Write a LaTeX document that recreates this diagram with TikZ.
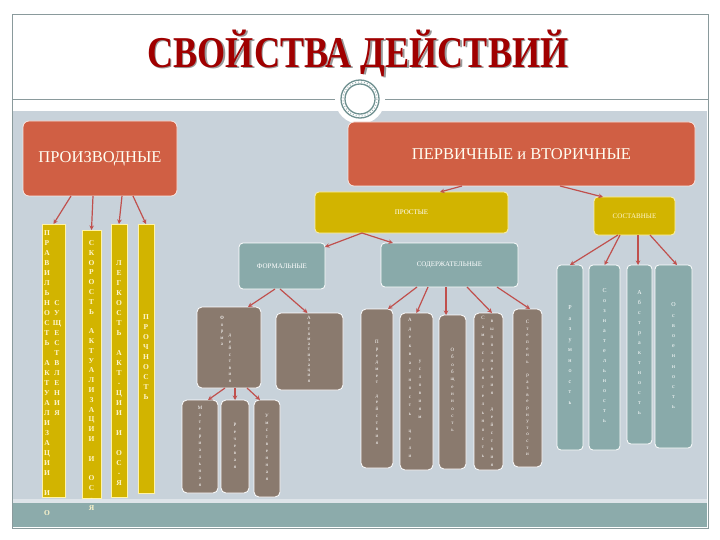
\documentclass[tikz,border=0pt]{standalone}
\usepackage{fontspec}
\setmainfont{Liberation Serif}
\usetikzlibrary{arrows.meta,calc}

\definecolor{panel}{HTML}{C8D2DA}
\definecolor{strip}{HTML}{8CABAB}
\definecolor{redbox}{HTML}{D05F44}
\definecolor{yel}{HTML}{D2B400}
\definecolor{tealb}{HTML}{89AAAA}
\definecolor{brownb}{HTML}{8A7A6E}
\definecolor{arrc}{HTML}{C0504D}
\definecolor{titlec}{HTML}{A00000}
\definecolor{framec}{HTML}{8A9A9C}
\definecolor{ringc}{HTML}{6F9090}
\definecolor{ltxt}{HTML}{FFF6CC}
\definecolor{ytrim}{HTML}{FFF3A8}

\makeatletter
\def\vstkEnd{\vstkEnd@}
\newcommand\vstk[1]{\vstk@a#1\vstkEnd}
\def\vstk@a#1{\ifx#1\vstkEnd\else\vstk@put#1\expandafter\vstk@b\fi}
\def\vstk@b#1{\ifx#1\vstkEnd\else\\\vstk@put#1\expandafter\vstk@b\fi}
\def\vstk@put#1{\ifx#1_\strut\else#1\fi}
\makeatother

% box: name, x1, y1, x2, y2, style, text
\newcommand\bx[7]{\node[#6, minimum width={(#4-#2)*1pt}, minimum height={(#5-#3)*1pt}] (#1) at ({(#2+#4)/2},{(#3+#5)/2}) {#7};}
% vertical column: name, x, y of first letter centre, font size, pitch, text, colour
\newcommand\vcol[7]{\node[vc, text=#7, font={\fontsize{#4}{#5}\selectfont}] (#1) at (#2,{#3-0.33*#4}) {\vstk{#6}};}
\newcommand\vcolb[7]{\node[vc, text=#7, font={\fontsize{#4}{#5}\selectfont\bfseries}] (#1) at (#2,{#3-0.33*#4}) {\vstk{#6}};}

\begin{document}
\begin{tikzpicture}[x=1pt,y=-1pt,
  vc/.style={inner sep=0pt, outer sep=0pt, align=center, anchor=north},
  redb/.style={fill=redbox, draw=white!85!redbox, line width=0.8pt, rounded corners=6pt, inner sep=0pt, outer sep=0pt, text=white!95!yellow, font={\fontsize{16.5}{18}\selectfont}},
  yelb/.style={fill=yel, draw=ytrim, line width=0.8pt, rounded corners=4pt, inner sep=0pt, outer sep=0pt, text=white, font={\fontsize{7}{8}\selectfont}},
  ycol/.style={fill=yel, draw=ytrim, line width=0.8pt, inner sep=0pt, outer sep=0pt},
  tealbox/.style={fill=tealb, draw=white, line width=0.8pt, rounded corners=4pt, inner sep=0pt, outer sep=0pt, text=white, font={\fontsize{7}{8}\selectfont}},
  brbox/.style={fill=brownb, draw=white, line width=0.8pt, rounded corners=5pt, inner sep=0pt, outer sep=0pt},
  arr/.style={draw=arrc, line width=1.2pt, -{Stealth[length=4.5pt,width=4.5pt]}}
]
\useasboundingbox (0,0) rectangle (720,540);
\fill[white] (0,0) rectangle (720,540);

% frame and panel
\fill[panel] (13,111) rectangle (707,503);
\fill[white!40!panel] (13,499) rectangle (707,503);
\fill[strip] (13,503) rectangle (707,527);
\draw[framec, line width=0.8pt] (12,14) rectangle (708,528);
\draw[framec, line width=1pt] (12,100) -- (708,100);

% title
\node[text=black!40, font={\fontsize{44}{48}\selectfont\bfseries}] (titleshadow) at (359.2,54.2) {\scalebox{0.82}[1]{СВОЙСТВА ДЕЙСТВИЙ}};
\node[text=titlec, font={\fontsize{44}{48}\selectfont\bfseries}] (title) at (358,53) {\scalebox{0.82}[1]{СВОЙСТВА ДЕЙСТВИЙ}};

% ornament
\fill[white] (360,99) circle (25);
\draw[ringc, line width=1.3pt] (360,99) circle (19);
\draw[ringc, line width=1.3pt] (360,99) circle (15);
\draw[ringc!70, line width=1pt, dotted] (360,99) circle (17);

% main boxes
\bx{proizv}{23}{121}{177}{196}{redb}{ПРОИЗВОДНЫЕ}
\bx{perv}{348}{122}{695}{186}{redb}{ПЕРВИЧНЫЕ и ВТОРИЧНЫЕ}
\bx{prost}{315}{192}{508}{233}{yelb}{ПРОСТЫЕ}
\bx{sost}{594}{197}{675}{235}{yelb,text=ltxt}{СОСТАВНЫЕ}
\bx{form}{239}{243}{325}{289}{tealbox}{ФОРМАЛЬНЫЕ}
\bx{soder}{381}{243}{518}{287}{tealbox}{СОДЕРЖАТЕЛЬНЫЕ}

% derived (yellow columns)
\bx{y1}{42}{224}{65}{497}{ycol}{}
\bx{y2}{82}{230}{101}{498}{ycol}{}
\bx{y3}{111}{224}{127}{497}{ycol}{}
\bx{y4}{138}{224}{154}{493}{ycol}{}
\vcolb{y1a}{47}{233}{7.5}{10}{ПРАВИЛЬНОСТЬ_АКТУАЛИЗАЦИИ_И_О}{ltxt}
\vcolb{y1b}{57}{303}{7.5}{10}{СУЩЕСТВЛЕНИЯ}{ltxt}
\vcolb{y2a}{91.5}{243}{7.5}{9.8}{СКОРОСТЬ_АКТУАЛИЗАЦИИ_И_ОС-Я}{ltxt}
\vcolb{y3a}{119}{263}{7.5}{10}{ЛЕГКОСТЬ_АКТ-ЦИИ_И_ОС-Я}{ltxt}
\vcolb{y4a}{146}{317}{7.5}{10}{ПРОЧНОСТЬ}{ltxt}

% formal branch
\bx{f1}{197}{307}{261}{388}{brbox}{}
\bx{f2}{276}{313}{343}{390}{brbox}{}
\bx{g1}{182}{400}{218}{493}{brbox}{}
\bx{g2}{221}{400}{249}{493}{brbox}{}
\bx{g3}{254}{400}{280}{497}{brbox}{}
\vcol{f1a}{222}{318}{5}{6.5}{Форма}{white}
\vcol{f1b}{230}{336}{5}{6.5}{действия}{white}
\vcol{f2a}{309}{318}{5}{5.2}{Автоматизация}{white}
\vcol{g1a}{200}{408}{5}{7}{Материальная}{white}
\vcol{g2a}{235}{425}{5}{7}{Речевая}{white}
\vcol{g3a}{267}{416}{5}{7}{Умственная}{white}

% content branch
\bx{ca}{361}{309}{393}{468}{brbox}{}
\bx{cb}{400}{313}{433}{470}{brbox}{}
\bx{cc}{439}{315}{466}{469}{brbox}{}
\bx{cd}{474}{313}{503}{470}{brbox}{}
\bx{ce}{513}{309}{542}{467}{brbox}{}
\vcol{caa}{377}{342}{5}{6.7}{Предмет_действия}{white}
\vcol{cba}{410}{320}{5}{8.5}{Адекватность_цели}{white}
\vcol{cbb}{420}{362}{5}{8}{условиям}{white}
\vcol{cca}{452.5}{350}{5}{7.3}{Обобщенность}{white}
\vcol{cda}{483}{318}{5}{8.6}{Самостоятельность}{white}
\vcol{cdb}{492}{322}{5}{8}{выполнения_действия}{white}
\vcol{cea}{527.5}{322}{5}{6.6}{Степень_развернутости}{white}

% composite branch
\bx{t1}{557}{265}{583}{450}{tealbox}{}
\bx{t2}{589}{265}{620}{450}{tealbox}{}
\bx{t3}{627}{265}{652}{444}{tealbox}{}
\bx{t4}{655}{265}{692}{448}{tealbox}{}
\vcol{t1a}{570}{308}{6}{10.5}{Разумность}{white}
\vcol{t2a}{604.5}{291}{6}{10}{Сознательность}{white}
\vcol{t3a}{639.5}{293}{6}{10}{Абстрактность}{white}
\vcol{t4a}{673.5}{305}{6}{10.2}{Освоенность}{white}

% connectors
\draw[arr] ([xshift=-29pt]proizv.south) -- (y1.north);
\draw[arr] ([xshift=-7pt]proizv.south) -- (y2.north);
\draw[arr] ([xshift=22pt]proizv.south) -- (y3.north);
\draw[arr] ([xshift=33pt]proizv.south) -- (y4.north);

\draw[arr] ([xshift=-59.5pt]perv.south) -- ([xshift=28.5pt]prost.north);
\draw[arr] ([xshift=38.5pt]perv.south) -- ([xshift=-31.5pt]sost.north);

\draw[arr] ([xshift=-49.5pt]prost.south) -- ([yshift=-4pt]form.north east);
\draw[arr] ([xshift=-49.5pt]prost.south) -- ([xshift=-56.5pt]soder.north);

\draw[arr] ([xshift=-7pt]form.south) -- ([xshift=19pt]f1.north);
\draw[arr] ([xshift=-2pt]form.south) -- ([xshift=-2pt]f2.north);
\draw[arr] ([xshift=-4pt]f1.south) -- ([xshift=8pt]g1.north);
\draw[arr] ([xshift=6pt]f1.south) -- (g2.north);
\draw[arr] ([xshift=18pt]f1.south) -- ([xshift=-7pt]g3.north);

\draw[arr] ([xshift=-32.5pt]soder.south) -- ([xshift=11pt]ca.north);
\draw[arr] ([xshift=-21.5pt]soder.south) -- (cb.north);
\draw[arr] ([xshift=-3.5pt]soder.south) -- ([xshift=-6.5pt]cc.north);
\draw[arr] ([xshift=17.5pt]soder.south) -- ([xshift=3.5pt]cd.north);
\draw[arr] ([xshift=47.5pt]soder.south) -- ([xshift=2.5pt]ce.north);

\draw[arr] ([xshift=-16.5pt]sost.south) -- (t1.north);
\draw[arr] ([xshift=-14.5pt]sost.south) -- (t2.north);
\draw[arr] ([xshift=3.5pt]sost.south) -- ([xshift=-1.5pt]t3.north);
\draw[arr] ([xshift=15.5pt]sost.south) -- ([xshift=3.5pt]t4.north);
\end{tikzpicture}
\end{document}
